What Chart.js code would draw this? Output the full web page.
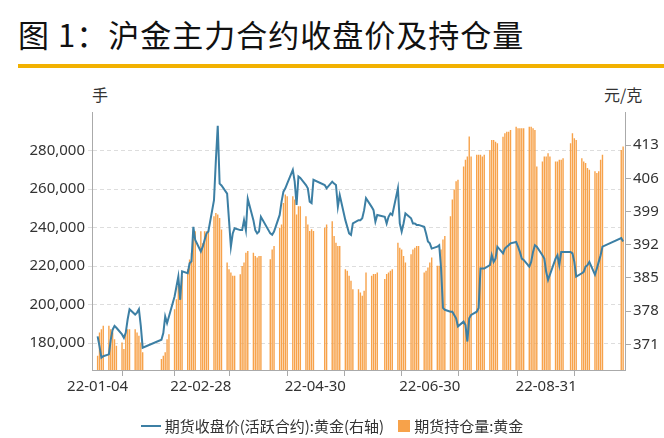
<!DOCTYPE html>
<html><head><meta charset="utf-8">
<script src="https://cdn.jsdelivr.net/npm/chart.js@4"></script>
<style>
body{margin:0;width:664px;height:438px;background:#fff;font-family:"Noto Sans CJK SC","Noto Sans",sans-serif;position:relative;overflow:hidden}
#title{position:absolute;left:18px;top:11px;font-size:31px;color:#111;letter-spacing:1px}
#bar{position:absolute;left:18px;top:64px;width:646px;height:4px;background:#F2B100}
.u{position:absolute;top:82px;font-size:16px;color:#333}
#c{position:absolute;left:0;top:0}
#leg{position:absolute;top:413px;left:0;width:664px;text-align:center;font-size:15px;color:#333}
#leg span{display:inline-block;vertical-align:middle}
</style></head><body>
<div id="title">图 1：沪金主力合约收盘价及持仓量</div>
<div id="bar"></div>
<div class="u" style="left:92px">手</div>
<div class="u" style="left:604px">元/克</div>
<canvas id="c" width="664" height="438"></canvas>
<div id="leg"><span style="width:20px;height:2px;background:#3C7FA4;margin-right:4px"></span><span>期货收盘价(活跃合约):黄金(右轴)</span><span style="width:12px;height:12px;background:#F7A24A;margin:0 4px 0 14px"></span><span>期货持仓量:黄金</span></div>
<script>
const tradeDays = [
"01-04","01-05","01-06","01-07","01-10","01-11","01-12","01-13","01-14","01-17","01-18","01-19","01-20","01-21","01-24","01-25","01-26","01-27","01-28",
"02-07","02-08","02-09","02-10","02-11","02-14","02-15","02-16","02-17","02-18","02-21","02-22","02-23","02-24","02-25","02-28",
"03-01","03-02","03-03","03-04","03-07","03-08","03-09","03-10","03-11","03-14","03-15","03-16","03-17","03-18","03-21","03-22","03-23","03-24","03-25","03-28","03-29","03-30","03-31",
"04-01","04-06","04-07","04-08","04-11","04-12","04-13","04-14","04-15","04-18","04-19","04-20","04-21","04-22","04-25","04-26","04-27","04-28","04-29",
"05-05","05-06","05-09","05-10","05-11","05-12","05-13","05-16","05-17","05-18","05-19","05-20","05-23","05-24","05-25","05-26","05-27","05-30","05-31",
"06-01","06-02","06-06","06-07","06-08","06-09","06-10","06-13","06-14","06-15","06-16","06-17","06-20","06-21","06-22","06-23","06-24","06-27","06-28","06-29","06-30",
"07-01","07-04","07-05","07-06","07-07","07-08","07-11","07-12","07-13","07-14","07-15","07-18","07-19","07-20","07-21","07-22","07-25","07-26","07-27","07-28","07-29",
"08-01","08-02","08-03","08-04","08-05","08-08","08-09","08-10","08-11","08-12","08-15","08-16","08-17","08-18","08-19","08-22","08-23","08-24","08-25","08-26","08-29","08-30","08-31",
"09-01","09-02","09-05","09-06","09-07","09-08","09-09","09-13","09-14","09-15","09-16","09-19","09-20","09-21","09-22","09-23","09-26","09-27","09-28","09-29","09-30",
"10-10","10-11"];
const closePrice = [
372.7,370.6,368.2,368.5,368.9,372.0,374.1,374.9,374.5,373.1,372.4,373.5,376.3,378.4,377.3,377.7,378.4,374.9,370.3,
372.0,373.4,376.9,375.5,376.9,381.1,383.2,385.3,380.4,386.4,386.0,388.1,388.5,395.8,393.0,390.6,
391.6,393.0,394.4,394.8,401.4,409.8,417.1,404.9,404.5,402.8,397.2,391.6,394.4,395.5,395.1,395.1,397.2,395.1,401.7,397.2,395.1,394.4,394.8,
397.9,394.4,394.1,394.8,398.3,401.1,403.2,403.9,404.9,407.8,405.3,400.4,406.4,406.1,404.6,403.9,401.1,400.8,405.7,
404.6,403.9,405.3,404.9,404.6,400.0,402.5,397.2,395.8,394.4,394.1,396.5,397.2,397.2,397.6,399.3,401.8,400.0,399.3,
396.9,398.3,397.9,396.5,397.9,398.6,398.3,403.9,396.5,394.8,396.5,398.6,397.6,396.5,396.5,396.2,396.2,395.8,394.4,392.7,392.3,
391.2,391.6,391.9,387.0,378.7,378.3,377.9,377.9,377.2,376.5,374.8,375.8,375.1,371.6,376.5,377.2,377.9,378.7,387.0,387.0,387.0,
387.7,389.8,388.4,389.1,391.6,390.2,391.2,391.6,391.9,392.3,392.6,391.6,390.5,389.1,388.8,387.4,388.4,390.5,391.9,391.6,389.8,389.1,386.3,
384.6,385.7,389.1,389.8,387.7,390.5,390.5,390.5,390.2,388.4,385.3,386.0,386.3,387.4,387.7,388.4,385.7,387.0,388.4,389.8,391.6,
393.4,392.7];
const openInterestK = [
173.4,185.5,187.2,189.0,189.0,187.2,185.5,182.0,178.6,180.3,176.9,185.5,187.2,187.2,187.2,185.5,183.8,180.3,175.2,
171.7,173.4,175.2,182.0,184.6,197.6,202.7,209.6,207.9,214.8,218.3,223.4,226.9,237.3,238.1,238.1,
231.8,238.1,238.1,238.1,245.8,247.5,246.7,245.0,239.0,221.8,218.3,216.6,214.9,214.9,215.7,220.0,221.8,226.9,227.8,226.9,225.2,224.4,225.2,
225.2,223.5,228.6,230.4,239.9,241.6,252.8,257.1,256.3,256.3,254.5,246.8,251.1,251.1,245.9,241.6,238.2,239.1,238.2,
239.9,241.6,243.3,235.6,232.1,230.4,230.4,218.3,217.5,214.9,212.3,208.0,208.0,206.3,204.6,207.2,216.6,214.9,215.8,
215.8,216.6,213.2,215.8,216.6,217.5,218.3,232.1,229.5,228.6,225.2,221.8,226.1,228.6,229.5,230.4,230.4,216.6,217.5,219.2,221.8,
224.4,220.1,220.1,228.6,233.8,235.6,245.9,254.5,259.7,264.0,264.8,271.7,275.2,276.9,287.3,276.9,277.8,277.8,277.8,276.9,277.8,
280.3,285.5,285.5,284.6,283.8,287.2,289.0,289.8,289.8,290.7,292.4,291.6,291.6,291.6,291.6,292.4,292.4,291.6,290.7,271.7,274.3,276.9,276.9,
278.6,276.9,274.3,274.3,275.2,275.2,276.0,283.8,289.0,286.4,285.5,276.0,274.3,273.5,270.9,270.0,269.2,268.3,269.2,275.2,277.8,
280.3,282.1];
const tickDates = ["01-04","01-31","02-28","03-31","04-30","05-31","06-30","07-31","08-31","09-30"];
const labelDates = ["01-04","02-28","04-30","06-30","08-31"];
const leftTicks = [180000,200000,220000,240000,260000,280000];
const rightTicks = [371,378,385,392,399,406,413];

const calendar = [];
for (let d = new Date(Date.UTC(2022,0,1)); d <= new Date(Date.UTC(2022,9,12)); d.setUTCDate(d.getUTCDate()+1)) {
  calendar.push(d.toISOString().slice(5,10));
}
const priceData = calendar.map(c => { const i = tradeDays.indexOf(c); return i < 0 ? null : closePrice[i]; });
const oiData = calendar.map(c => { const i = tradeDays.indexOf(c); return i < 0 ? null : openInterestK[i]*1000; });
const tickIdx = tickDates.map(c => calendar.indexOf(c));
const font = {family:'"Noto Sans","Noto Sans CJK SC",sans-serif', size:15};

new Chart(document.getElementById('c'), {
  data: {
    labels: calendar,
    datasets: [
      {type:'line', data:priceData, yAxisID:'y1', borderColor:'#3C7FA4', borderWidth:2, pointRadius:0, spanGaps:true, tension:0, order:0},
      {type:'bar', data:oiData, yAxisID:'y', backgroundColor:'#F7A24A', barPercentage:0.75, categoryPercentage:1, order:1}
    ]
  },
  options: {
    responsive:false, animation:false, events:[],
    layout:{padding:{top:112, bottom:40, left:0, right:0}},
    plugins:{legend:{display:false}, tooltip:{enabled:false}},
    scales:{
      x:{offset:false, border:{color:'#aaa'},
        grid:{drawOnChartArea:false, drawTicks:true, tickLength:6, color:'#aaa'},
        afterBuildTicks: s => { s.ticks = tickIdx.map(v => ({value:v})); },
        afterFit: s => { s.height = 28; },
        ticks:{autoSkip:false, maxRotation:0, color:'#333', font, padding:2,
          callback: (v) => labelDates.includes(calendar[v]) ? '22-' + calendar[v] : ''}
      },
      y:{position:'left', min:166000, max:300000, border:{color:'#aaa', dash:[4,3]},
        grid:{color:'#ddd', drawTicks:true, tickLength:4},
        afterBuildTicks: s => { s.ticks = leftTicks.map(v => ({value:v})); },
        afterFit: s => { s.width = 92; },
        ticks:{color:'#333', font, callback: v => v.toLocaleString('en-US')}
      },
      y1:{position:'right', min:365.6, max:420, border:{color:'#aaa'},
        grid:{drawOnChartArea:false, drawTicks:true, tickLength:6, color:'#aaa'},
        afterBuildTicks: s => { s.ticks = rightTicks.map(v => ({value:v})); },
        afterFit: s => { s.width = 39; },
        ticks:{color:'#333', font, padding:2}
      }
    }
  }
});
</script>
</body></html>
